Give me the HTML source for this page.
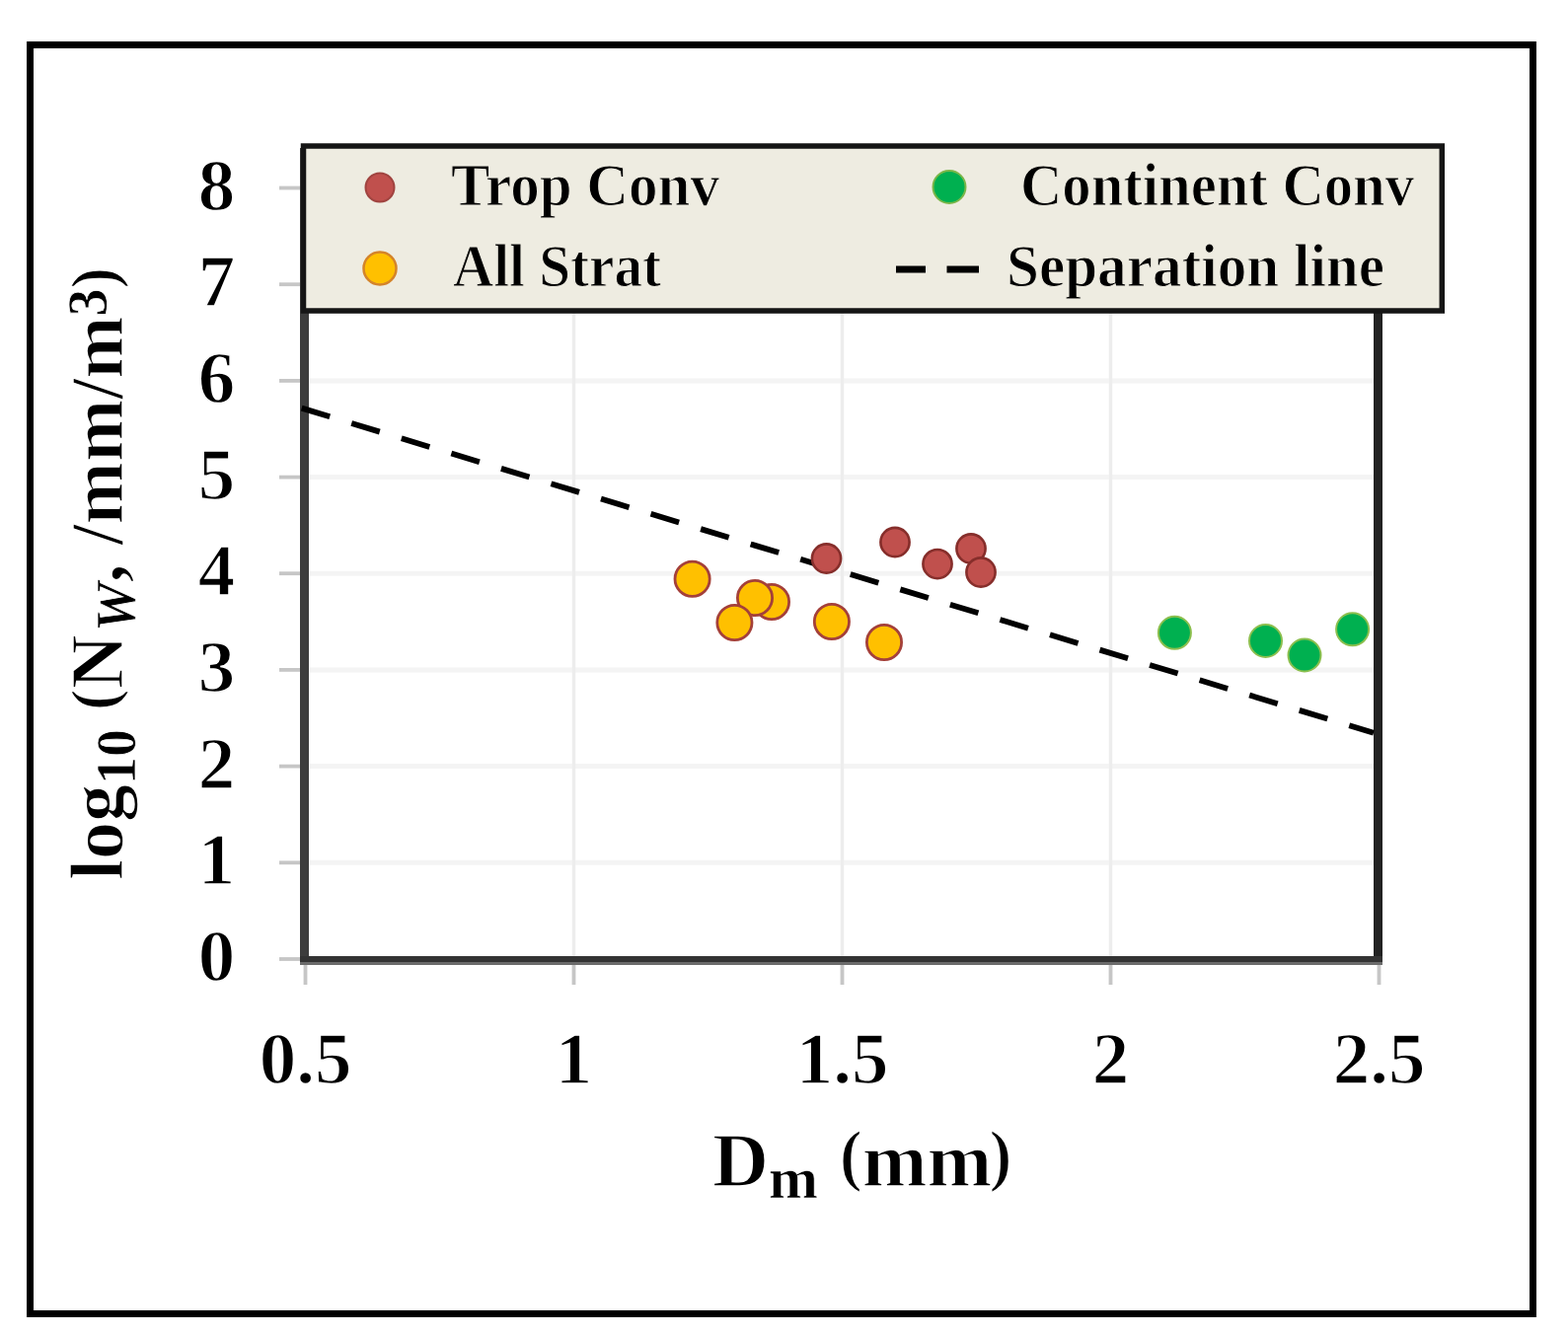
<!DOCTYPE html>
<html><head><meta charset="utf-8"><title>log10(Nw) vs Dm</title>
<style>
html,body{margin:0;padding:0;background:#fff;}
body{width:1589px;height:1353px;overflow:hidden;position:relative;}
svg{position:absolute;left:0;top:0;display:block;}
text{font-family:'Liberation Serif', 'Times New Roman', serif;font-weight:bold;fill:#000;stroke:#fff;stroke-width:1.4px;}
.sub{stroke-width:0.7px;}
.lg text{stroke:#eeece1;stroke-width:1.1px;}
</style></head><body>
<svg width="1589" height="1353" viewBox="0 0 1589 1353">
<rect x="0" y="0" width="1589" height="1353" fill="#fff"/>
<rect x="30.5" y="45.5" width="1523" height="1286" fill="none" stroke="#000" stroke-width="7"/>
<g stroke="#f4f4f4" stroke-width="5"><line x1="313" y1="874.3" x2="1392" y2="874.3"/><line x1="313" y1="776.6" x2="1392" y2="776.6"/><line x1="313" y1="678.9" x2="1392" y2="678.9"/><line x1="313" y1="581.2" x2="1392" y2="581.2"/><line x1="313" y1="483.6" x2="1392" y2="483.6"/><line x1="313" y1="385.9" x2="1392" y2="385.9"/><line x1="313" y1="288.2" x2="1392" y2="288.2"/></g>
<g stroke="#ededed" stroke-width="3.5"><line x1="581.5" y1="150" x2="581.5" y2="969"/><line x1="853.5" y1="150" x2="853.5" y2="969"/><line x1="1125.5" y1="150" x2="1125.5" y2="969"/></g>
<g stroke="#c6c6c6" stroke-width="3.8"><line x1="283" y1="972.0" x2="304" y2="972.0"/><line x1="283" y1="874.3" x2="304" y2="874.3"/><line x1="283" y1="776.6" x2="304" y2="776.6"/><line x1="283" y1="678.9" x2="304" y2="678.9"/><line x1="283" y1="581.2" x2="304" y2="581.2"/><line x1="283" y1="483.6" x2="304" y2="483.6"/><line x1="283" y1="385.9" x2="304" y2="385.9"/><line x1="283" y1="288.2" x2="304" y2="288.2"/><line x1="283" y1="190.5" x2="304" y2="190.5"/><line x1="309.5" y1="978" x2="309.5" y2="998"/><line x1="581.5" y1="978" x2="581.5" y2="998"/><line x1="853.5" y1="978" x2="853.5" y2="998"/><line x1="1125.5" y1="978" x2="1125.5" y2="998"/><line x1="1397.5" y1="978" x2="1397.5" y2="998"/></g>
<line x1="308.5" y1="150" x2="308.5" y2="978" stroke="#3c3c3c" stroke-width="9"/>
<line x1="1396.5" y1="150" x2="1396.5" y2="978" stroke="#222" stroke-width="9"/>
<line x1="304" y1="972" x2="1401" y2="972" stroke="#333" stroke-width="6"/>
<line x1="304" y1="976.5" x2="1401" y2="976.5" stroke="#6b6b6b" stroke-width="3"/>
<line x1="305.70" y1="413.65" x2="1392.00" y2="742.69" stroke="#000" stroke-width="5.8" stroke-dasharray="29.8 23.02"/>
<circle cx="837.5" cy="566" r="14.6" fill="#c0504d" stroke="#862e2b" stroke-width="2.6"/>
<circle cx="907" cy="549.5" r="14.6" fill="#c0504d" stroke="#862e2b" stroke-width="2.6"/>
<circle cx="950" cy="571.6" r="14.6" fill="#c0504d" stroke="#862e2b" stroke-width="2.6"/>
<circle cx="984" cy="556" r="14.6" fill="#c0504d" stroke="#862e2b" stroke-width="2.6"/>
<circle cx="994" cy="580" r="14.6" fill="#c0504d" stroke="#862e2b" stroke-width="2.6"/>
<circle cx="701.6" cy="586.7" r="17.6" fill="#ffc000" stroke="#a4403a" stroke-width="2.8"/>
<circle cx="782" cy="610" r="17.6" fill="#ffc000" stroke="#a4403a" stroke-width="2.8"/>
<circle cx="765" cy="606" r="17.6" fill="#ffc000" stroke="#a4403a" stroke-width="2.8"/>
<circle cx="744.4" cy="631" r="17.6" fill="#ffc000" stroke="#a4403a" stroke-width="2.8"/>
<circle cx="842.9" cy="630" r="17.6" fill="#ffc000" stroke="#a4403a" stroke-width="2.8"/>
<circle cx="896" cy="651" r="17.6" fill="#ffc000" stroke="#a4403a" stroke-width="2.8"/>
<circle cx="1190.4" cy="641.3" r="16.5" fill="#00b050" stroke="#8cbf4e" stroke-width="2"/>
<circle cx="1282.5" cy="649.5" r="16.5" fill="#00b050" stroke="#8cbf4e" stroke-width="2"/>
<circle cx="1322" cy="664" r="16.5" fill="#00b050" stroke="#8cbf4e" stroke-width="2"/>
<circle cx="1370.6" cy="637.8" r="16.5" fill="#00b050" stroke="#8cbf4e" stroke-width="2"/>
<rect x="307.5" y="148" width="1153.8" height="167" fill="#eeece1" stroke="#151515" stroke-width="5.5"/>
<circle cx="385" cy="190" r="14.5" fill="#c0504d" stroke="#a04440" stroke-width="2"/>
<circle cx="385" cy="272" r="16.5" fill="#ffc000" stroke="#d4842a" stroke-width="2.5"/>
<circle cx="962" cy="189.5" r="16.5" fill="#00b050" stroke="#7ab648" stroke-width="2"/>
<line x1="908" y1="273" x2="938" y2="273" stroke="#000" stroke-width="7"/>
<line x1="959.5" y1="273" x2="992" y2="273" stroke="#000" stroke-width="7"/>
<g class="lg"><text x="457" y="207.5" font-size="61.5" textLength="272" lengthAdjust="spacingAndGlyphs">Trop Conv</text>
<text x="1034" y="207.5" font-size="61.5" textLength="399" lengthAdjust="spacingAndGlyphs">Continent Conv</text>
<text x="459" y="290" font-size="61.5" textLength="211" lengthAdjust="spacingAndGlyphs">All Strat</text>
<text x="1020" y="290" font-size="61.5" textLength="383" lengthAdjust="spacingAndGlyphs">Separation line</text>
</g><text x="219.5" y="994.0" font-size="75" text-anchor="middle">0</text>
<text x="219.5" y="896.3" font-size="75" text-anchor="middle">1</text>
<text x="219.5" y="798.6" font-size="75" text-anchor="middle">2</text>
<text x="219.5" y="700.9" font-size="75" text-anchor="middle">3</text>
<text x="219.5" y="603.2" font-size="75" text-anchor="middle">4</text>
<text x="219.5" y="505.6" font-size="75" text-anchor="middle">5</text>
<text x="219.5" y="407.9" font-size="75" text-anchor="middle">6</text>
<text x="219.5" y="310.2" font-size="75" text-anchor="middle">7</text>
<text x="219.5" y="212.5" font-size="75" text-anchor="middle">8</text>
<text x="309.5" y="1098" font-size="75" text-anchor="middle">0.5</text>
<text x="581.5" y="1098" font-size="75" text-anchor="middle">1</text>
<text x="853.5" y="1098" font-size="75" text-anchor="middle">1.5</text>
<text x="1125.5" y="1098" font-size="75" text-anchor="middle">2</text>
<text x="1397.5" y="1098" font-size="75" text-anchor="middle">2.5</text>
<text x="722" y="1201.5" font-size="79">D<tspan class="sub" font-size="60" dy="12">m</tspan><tspan dy="-12"> </tspan><tspan font-size="69" dx="2" dy="-8">(</tspan><tspan dy="8">mm</tspan><tspan font-size="69" dx="-3" dy="-8">)</tspan></text>
<text transform="translate(123.5,892) rotate(-90)" font-size="76">log<tspan class="sub" font-size="56" dy="13.5">10</tspan><tspan dy="-13.5"> </tspan><tspan font-size="65" dy="-7">(</tspan><tspan dy="7">N</tspan><tspan class="sub" font-size="56" dx="3" dy="13.5" font-style="italic">W</tspan><tspan dy="-13.5">, /mm/m</tspan><tspan class="sub" font-size="56" dy="-15.5">3</tspan><tspan font-size="65" dy="8.5">)</tspan></text>
</svg>
</body></html>
